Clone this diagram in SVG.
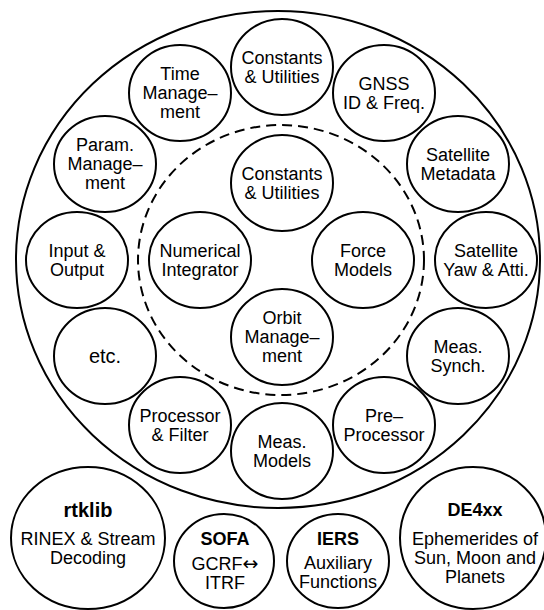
<svg xmlns="http://www.w3.org/2000/svg" width="544" height="610" viewBox="0 0 544 610">
<style>
  .c { fill: #ffffff; stroke: #000000; stroke-width: 2; }
  .outer { fill: none; stroke: #000000; stroke-width: 2; }
  .dash { fill: none; stroke: #000000; stroke-width: 2; stroke-dasharray: 10 6; }
  text { font-family: "Liberation Sans", Arial, Helvetica, sans-serif; font-size: 18px; fill: #000000; text-anchor: middle; }
  .b { font-weight: bold; }
  .big { font-size: 20px; }
  .arr { font-family: "DejaVu Sans", sans-serif; font-size: 19px; }
</style>
<rect width="544" height="610" fill="#ffffff"/>
<g id="frame">
  <ellipse class="outer" cx="278" cy="259.5" rx="262" ry="248.5"/>
  <ellipse class="dash" cx="281" cy="260" rx="143" ry="135"/>
</g>
<g id="connectors"></g>

<g id="outer-constants">
  <ellipse class="c" cx="282" cy="67" rx="51" ry="48"/>
  <text x="282" y="63.5">Constants</text>
  <text x="282" y="82.5">&amp; Utilities</text>
</g>
<g id="gnss">
  <ellipse class="c" cx="384" cy="93" rx="51" ry="48"/>
  <text x="384" y="89.5">GNSS</text>
  <text x="384" y="108.5">ID &amp; Freq.</text>
</g>
<g id="sat-metadata">
  <ellipse class="c" cx="458" cy="164" rx="51" ry="48"/>
  <text x="458" y="160.5">Satellite</text>
  <text x="458" y="179.5">Metadata</text>
</g>
<g id="sat-yaw">
  <ellipse class="c" cx="486" cy="260" rx="51" ry="48"/>
  <text x="486" y="256.5">Satellite</text>
  <text x="486" y="275.5">Yaw &amp; Atti.</text>
</g>
<g id="meas-synch">
  <ellipse class="c" cx="458" cy="356" rx="51" ry="48"/>
  <text x="458" y="352.5">Meas.</text>
  <text x="458" y="371.5">Synch.</text>
</g>
<g id="pre-processor">
  <ellipse class="c" cx="384" cy="425" rx="51" ry="48"/>
  <text x="384" y="421.5">Pre–</text>
  <text x="384" y="440.5">Processor</text>
</g>
<g id="meas-models">
  <ellipse class="c" cx="282" cy="451" rx="51" ry="48"/>
  <text x="282" y="447.5">Meas.</text>
  <text x="282" y="466.5">Models</text>
</g>
<g id="processor-filter">
  <ellipse class="c" cx="180" cy="425" rx="51" ry="48"/>
  <text x="180" y="421.5">Processor</text>
  <text x="180" y="440.5">&amp; Filter</text>
</g>
<g id="etc">
  <ellipse class="c" cx="105" cy="356" rx="51" ry="48"/>
  <text class="big" x="105" y="363">etc.</text>
</g>
<g id="input-output">
  <ellipse class="c" cx="77" cy="260" rx="51" ry="48"/>
  <text x="77" y="256.5">Input &amp;</text>
  <text x="77" y="275.5">Output</text>
</g>
<g id="param-management">
  <ellipse class="c" cx="105" cy="164" rx="51" ry="48"/>
  <text x="105" y="151">Param.</text>
  <text x="105" y="170">Manage–</text>
  <text x="105" y="189">ment</text>
</g>
<g id="time-management">
  <ellipse class="c" cx="180" cy="93" rx="51" ry="48"/>
  <text x="180" y="80">Time</text>
  <text x="180" y="99">Manage–</text>
  <text x="180" y="118">ment</text>
</g>

<g id="inner-constants">
  <ellipse class="c" cx="282" cy="183" rx="51" ry="48"/>
  <text x="282" y="179.5">Constants</text>
  <text x="282" y="198.5">&amp; Utilities</text>
</g>
<g id="numerical-integrator">
  <ellipse class="c" cx="200" cy="260" rx="51" ry="48"/>
  <text x="200" y="256.5">Numerical</text>
  <text x="200" y="275.5">Integrator</text>
</g>
<g id="force-models">
  <ellipse class="c" cx="363" cy="260" rx="51" ry="48"/>
  <text x="363" y="256.5">Force</text>
  <text x="363" y="275.5">Models</text>
</g>
<g id="orbit-management">
  <ellipse class="c" cx="282" cy="337" rx="51" ry="48"/>
  <text x="282" y="324">Orbit</text>
  <text x="282" y="343">Manage–</text>
  <text x="282" y="362">ment</text>
</g>

<g id="rtklib">
  <ellipse class="c" cx="88" cy="538" rx="77" ry="71"/>
  <text class="b big" x="88" y="517">rtklib</text>
  <text x="88" y="545">RINEX &amp; Stream</text>
  <text x="88" y="564">Decoding</text>
</g>
<g id="sofa">
  <ellipse class="c" cx="224" cy="561" rx="50" ry="47"/>
  <text class="b" x="225" y="545">SOFA</text>
  <text x="225" y="570">GCRF<tspan class="arr">↔</tspan></text>
  <text x="225" y="589">ITRF</text>
</g>
<g id="iers">
  <ellipse class="c" cx="338" cy="561" rx="51" ry="47"/>
  <text class="b" x="338" y="545">IERS</text>
  <text x="338" y="569">Auxiliary</text>
  <text x="338" y="588">Functions</text>
</g>
<g id="de4xx">
  <ellipse class="c" cx="473" cy="538" rx="73" ry="71"/>
  <text class="b" x="475" y="516">DE4xx</text>
  <text x="475" y="545">Ephemerides of</text>
  <text x="475" y="564">Sun, Moon and</text>
  <text x="475" y="583">Planets</text>
</g>
</svg>
